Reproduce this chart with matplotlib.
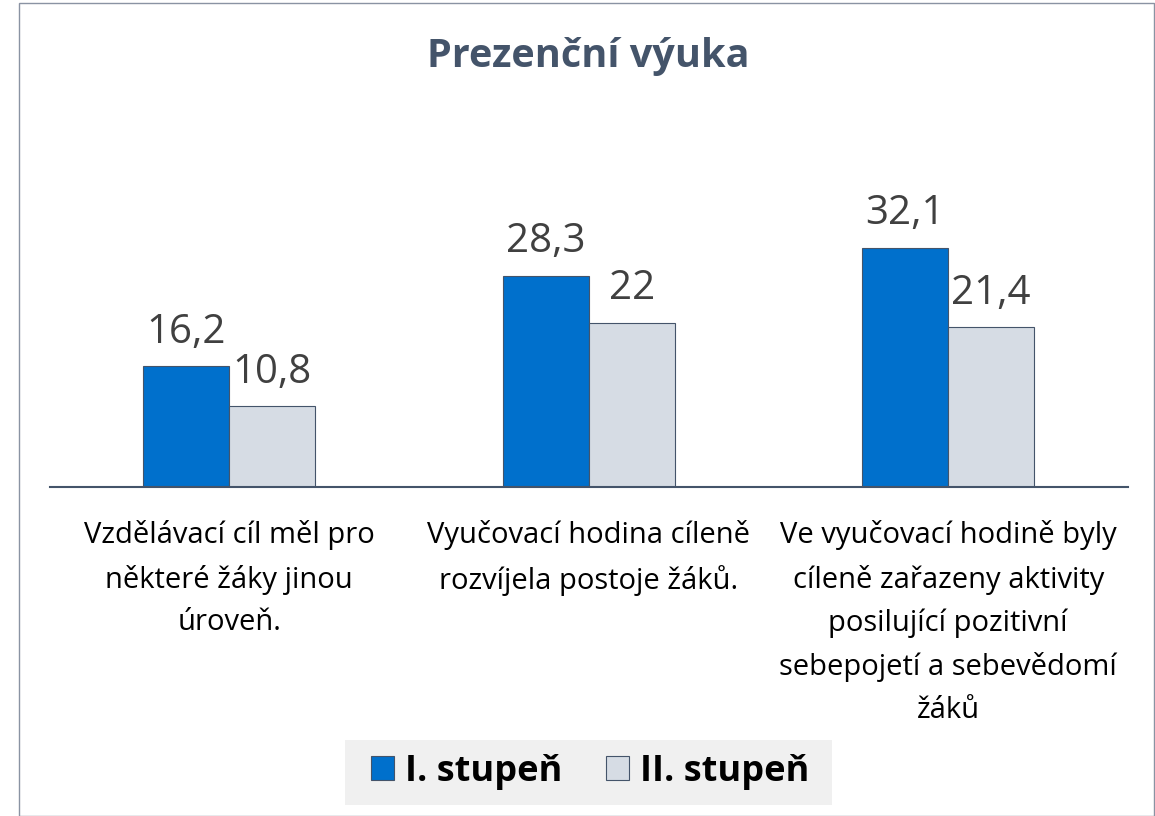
import numpy as np
import matplotlib.pyplot as plt
from matplotlib.patches import Patch, Rectangle

plt.rcParams['font.family'] = ['Open Sans', 'DejaVu Sans']

categories = [
    "Vzdělávací cíl měl pro\nněkteré žáky jinou\núroveň.",
    "Vyučovací hodina cíleně\nrozvíjela postoje žáků.",
    "Ve vyučovací hodině byly\ncíleně zařazeny aktivity\nposilující pozitivní\nsebepojetí a sebevědomí\nžáků",
]
stupen_1 = [16.2, 28.3, 32.1]
stupen_2 = [10.8, 22, 21.4]
value_labels_1 = ["16,2", "28,3", "32,1"]
value_labels_2 = ["10,8", "22", "21,4"]
series_names = ["I. stupeň", "II. stupeň"]

blue = "#0070CC"
grey = "#D6DCE4"
edge = "#44546A"

fig = plt.figure(figsize=(11.55, 8.16), dpi=100)
ax = fig.add_axes([49.5 / 1155, 1 - 487 / 816, (1128 - 49.5) / 1155, (487 - 226) / 816])

x = np.arange(len(categories))
w = 0.239
ax.bar(x - w / 2, stupen_1, w, color=blue, edgecolor=edge, linewidth=0.8)
ax.bar(x + w / 2, stupen_2, w, color=grey, edgecolor=edge, linewidth=0.8)

# popisky hodnot nad sloupci
for i in range(len(categories)):
    ax.annotate(value_labels_1[i], (x[i] - w / 2, stupen_1[i]), xytext=(0, 17),
                textcoords="offset points", ha="center", va="baseline",
                fontsize=29, color="#404040")
    ax.annotate(value_labels_2[i], (x[i] + w / 2, stupen_2[i]), xytext=(0, 17),
                textcoords="offset points", ha="center", va="baseline",
                fontsize=29, color="#404040")

ax.set_xlim(-0.5, 2.5)
ax.set_ylim(0, 35)
for s in ["top", "right", "left"]:
    ax.spines[s].set_visible(False)
ax.spines["bottom"].set_color(edge)
ax.spines["bottom"].set_linewidth(1.5)
ax.set_yticks([])
ax.set_xticks(x)
ax.set_xticklabels(categories, fontsize=21, linespacing=1.62, color="#000000")
ax.tick_params(axis="x", length=0, pad=24)

fig.text(588 / 1155, 1 - 57 / 816, "Prezenční výuka", ha="center", va="center",
         fontsize=28.5, fontweight="bold", color=edge)

# pozadí legendy
fig.patches.append(Rectangle((345 / 1155, 1 - 805 / 816), (832 - 345) / 1155, 65 / 816,
                             transform=fig.transFigure, facecolor="#F0F0F0", edgecolor="none"))
handles = [Patch(facecolor=blue, edgecolor=edge, linewidth=0.8),
           Patch(facecolor=grey, edgecolor=edge, linewidth=0.8)]
leg = fig.legend(handles, series_names, loc="center", bbox_to_anchor=(590 / 1155, 1 - 772 / 816),
                 ncol=2, frameon=False,
                 prop={"size": 26, "weight": "bold"}, handlelength=0.65, handleheight=0.65,
                 handletextpad=0.3, columnspacing=1.2, borderpad=0.2)

fig.patches.append(Rectangle((19 / 1155, 0), 1 - 19 / 1155 - 0.001, 1 - 3 / 816, transform=fig.transFigure,
                             fill=False, edgecolor="#8A93A3", linewidth=1))

fig.savefig("out.png")
